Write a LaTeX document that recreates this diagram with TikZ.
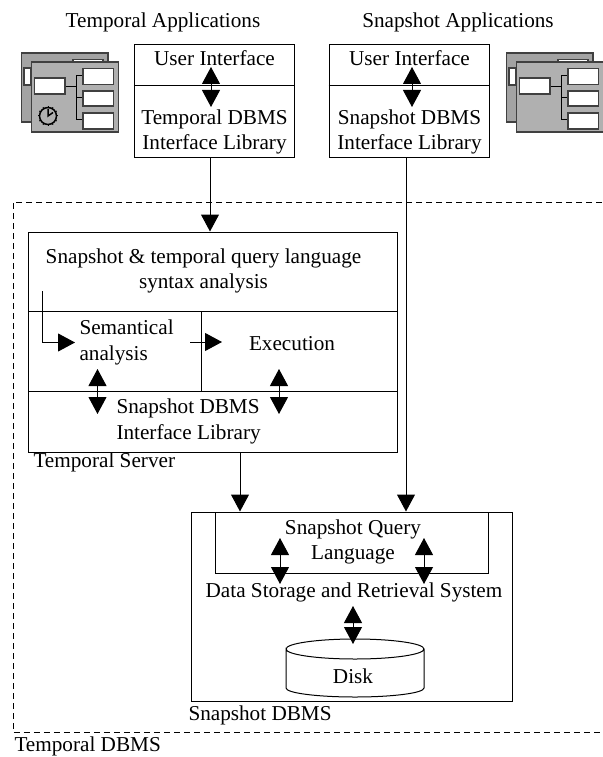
\documentclass[tikz,border=0pt]{standalone}
\usepackage{fontspec}
\setmainfont{Liberation Serif}
\usetikzlibrary{arrows.meta}
\usetikzlibrary{positioning}

\begin{document}
\begin{tikzpicture}
  [x=1pt,y=-1pt,line width=1pt,
  box/.style={rectangle,draw=black,inner sep=0pt},
  label/.style={inner sep=0pt,font=\fontsize{21.2}{25.3}\selectfont,align=center},
  biarrow/.style={{Triangle[width=18pt,length=17pt]}-{Triangle[width=18pt,length=17pt]}},
  onearrow/.style={-{Triangle[width=18pt,length=17pt]}},
  winback/.style={draw=black!75,fill=black!36,line width=1.2pt},
  winfront/.style={draw=black!75,fill=black!31,line width=1.2pt},
  winbox/.style={draw=black!75,fill=white,line width=1.2pt}]
  \useasboundingbox (0,0) rectangle (602,757);

  % application windows
  \foreach \dx in {0,485} {
    \begin{scope}[xshift=\dx pt]
      \draw[winback] (21.5,53) rectangle (108,122);
      \draw[winbox] (24,68) rectangle (31,85);
      \draw[winbox] (73,59.5) rectangle (103,62);
      \draw[winfront] (31.5,62) rectangle (118.5,132);
      \draw (65,87) -- (76,87);
      \draw (83,76) -- (76,76) -- (76,120) -- (83,120);
      \draw (76,98) -- (83,98);
      \draw[winbox] (34.5,78) rectangle (65,94);
      \draw[winbox] (83,68.5) rectangle (113.5,84.5);
      \draw[winbox] (83,91) rectangle (113.5,106);
      \draw[winbox] (83,113) rectangle (113.5,129);
    \end{scope}
  }

  % clock
  \draw[line width=1.5pt] (48,116) circle (8.5);
  \foreach \a in {0,30,...,330} {
    \draw (48,116) ++(\a:8) -- ++(\a:2);
  }
  \draw[line width=1.5pt] (48,109) -- (48,116) -- (53,112.5);

  % applications
  \node[label] (tempapps) at (163,22.5) {Temporal Applications};
  \node[label] (snapapps) at (458,22.5) {Snapshot Applications};

  \node[box,minimum width=160.5pt,minimum height=112.5pt] (tempclient) at (214.5,101) {};
  \node[box,minimum width=160pt,minimum height=112.5pt] (snapclient) at (409,101) {};
  \coordinate (tempdiv1) at (tempclient.west |- 0,86);
  \coordinate (tempdiv2) at (tempclient.east |- 0,86);
  \coordinate (snapdiv1) at (snapclient.west |- 0,86);
  \coordinate (snapdiv2) at (snapclient.east |- 0,86);
  \draw (tempdiv1) -- (tempdiv2);
  \draw (snapdiv1) -- (snapdiv2);

  \node[label] (tempui) at (214.5,58.5) {User Interface};
  \node[label] (snapui) at (409.5,58.5) {User Interface};
  \node[label] (templib) at (214.5,132) {Temporal DBMS\\Interface Library};
  \node[label] (snaplib) at (409.5,132) {Snapshot DBMS\\Interface Library};

  \coordinate (tempa1) at (211,67);
  \coordinate (tempa2) at (211,107);
  \coordinate (snapa1) at (412,67);
  \coordinate (snapa2) at (412,107);
  \draw[biarrow] (tempa1) -- (tempa2);
  \draw[biarrow] (snapa1) -- (snapa2);

  % temporal dbms
  \coordinate (dash1) at (602,202);
  \coordinate (dash2) at (13,202);
  \coordinate (dash3) at (13,732);
  \coordinate (dash4) at (602,732);
  \draw[dashed,dash pattern=on 6pt off 4pt] (dash1) -- (dash2) -- (dash3) -- (dash4);
  \node[label,anchor=west] (tempdbms) at (14,746.5) {Temporal DBMS};

  % temporal server
  \node[box,minimum width=368.5pt,minimum height=220pt] (server) at (213,342) {};
  \coordinate (serv1) at (server.west |- 0,311);
  \coordinate (serv2) at (server.east |- 0,311);
  \coordinate (serv3) at (server.west |- 0,391);
  \coordinate (serv4) at (server.east |- 0,391);
  \coordinate (serv5) at (201,311);
  \coordinate (serv6) at (201,391);
  \draw (serv1) -- (serv2);
  \draw (serv3) -- (serv4);
  \draw (serv5) -- (serv6);

  \node[label] (syntax) at (203.5,271) {Snapshot \& temporal query language\\syntax analysis};
  \node[label,align=left,anchor=west] (semantic) at (79,342.5) {Semantical\\analysis};
  \node[label] (execution) at (292,344) {Execution};
  \node[label,align=left,anchor=west] (servlib) at (116,421.5) {Snapshot DBMS\\Interface Library};
  \node[label,anchor=west] (servname) at (33,462) {Temporal Server};

  \coordinate (syna1) at (42.5,291);
  \coordinate (syna2) at (42.5,342.5);
  \coordinate (syna3) at (75,342.5);
  \draw[onearrow] (syna1) -- (syna2) -- (syna3);
  \coordinate (sema1) at (190,342);
  \coordinate (sema2) at (222,342);
  \draw[onearrow] (sema1) -- (sema2);
  \coordinate (liba1) at (97.5,369);
  \coordinate (liba2) at (97.5,414);
  \coordinate (libb1) at (279,369);
  \coordinate (libb2) at (279,414);
  \draw[biarrow] (liba1) -- (liba2);
  \draw[biarrow] (libb1) -- (libb2);

  % snapshot dbms
  \node[box,minimum width=321pt,minimum height=189pt] (dbms) at (351.5,606.5) {};
  \node[box,minimum width=273pt,minimum height=61pt] (query) at (351.5,542.5) {};
  \node[label] (querytxt) at (353,542) {Snapshot Query\\Language};
  \node[label] (storage) at (354,592.5) {Data Storage and Retrieval System};
  \node[label,anchor=west] (dbmsname) at (188,715) {Snapshot DBMS};

  \coordinate (qa1) at (280,538);
  \coordinate (qa2) at (280,584);
  \coordinate (qb1) at (424,538);
  \coordinate (qb2) at (424,584);
  \coordinate (da1) at (353,606);
  \coordinate (da2) at (353,644);
  \draw[biarrow] (qa1) -- (qa2);
  \draw[biarrow] (qb1) -- (qb2);
  \draw[biarrow] (da1) -- (da2);

  % disk
  \draw (286,649) arc[start angle=180,end angle=360,x radius=69,y radius=10]
    arc[start angle=0,end angle=180,x radius=69,y radius=10]
    -- (286,688) arc[start angle=180,end angle=0,x radius=69,y radius=9] -- (424,649);
  \node[label] (disk) at (353,676.5) {Disk};

  % links between the parts
  \coordinate (link1) at (tempclient.south -| 210,0);
  \coordinate (link2) at (server.north -| 210,0);
  \coordinate (link3) at (server.south -| 240,0);
  \coordinate (link4) at (dbms.north -| 240,0);
  \coordinate (link5) at (snapclient.south -| 406,0);
  \coordinate (link6) at (dbms.north -| 406,0);
  \draw[onearrow] (link1) -- (link2);
  \draw[onearrow] (link3) -- (link4);
  \draw[onearrow] (link5) -- (link6);
\end{tikzpicture}
\end{document}
